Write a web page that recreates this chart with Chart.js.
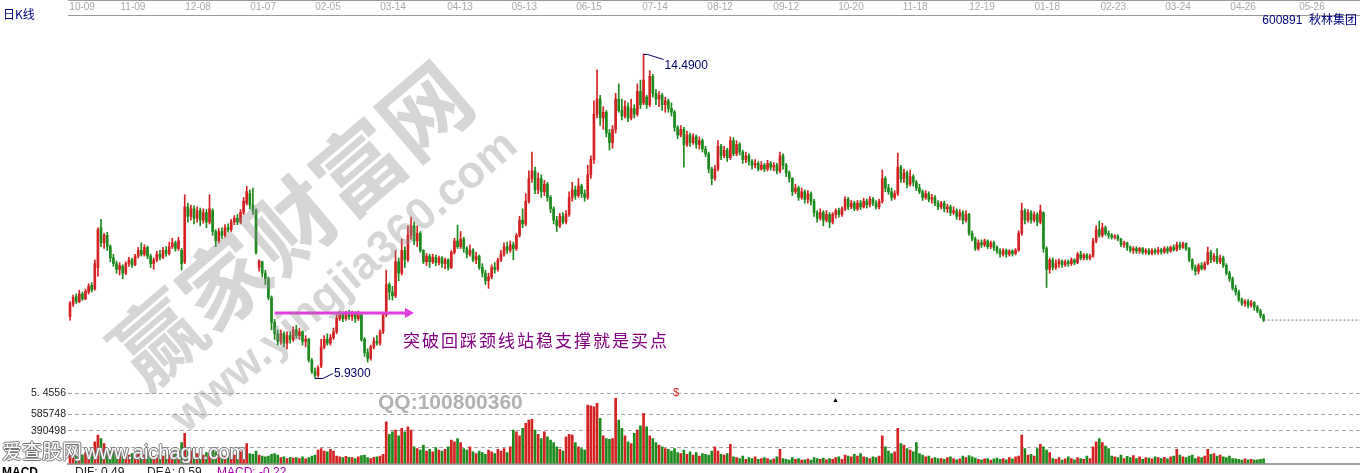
<!DOCTYPE html>
<html lang="zh">
<head>
<meta charset="utf-8">
<title>600891 秋林集团 日K线</title>
<script src="https://cdn.jsdelivr.net/npm/chart.js@4.4.1/dist/chart.umd.min.js"></script>
<style>
    body { margin: 0; background: #fff; }
    #stage { position: relative; width: 1360px; height: 473px; overflow: hidden; font-family: 'Liberation Sans', Arial, sans-serif; }
    .box { position: absolute; left: 0; width: 1360px; }
    #price-box { top: 0; height: 385px; }
    #volume-box { top: 385px; height: 88px; }
    .txt { position: absolute; white-space: nowrap; line-height: 1; }
    .topline { position: absolute; left: 68px; top: 0; width: 1292px; height: 1px; background: #9a9a9a; }
    .wm { position: absolute; white-space: nowrap; line-height: 1; font-weight: bold; color: rgba(140,140,140,0.36);
          transform: translate(-50%, -50%) rotate(-40.5deg); pointer-events: none; }
    .outline { color: #fff; text-shadow: -1px 0 #777, 1px 0 #777, 0 -1px #777, 0 1px #777; }
</style>
</head>
<body>
<div id="stage">
    <div class="box" id="price-box"><canvas id="priceChart"></canvas></div>
    <div class="box" id="volume-box"><canvas id="volumeChart"></canvas></div>
    <div class="topline"></div>

    <div class="txt" style="left:3px;top:8px;font-size:12px;color:#000080;font-family:'Noto Sans CJK SC',sans-serif">日K线</div>
    <div class="txt" style="right:3px;top:14px;font-size:12px;color:#000080;font-family:'Liberation Sans','Noto Sans CJK SC',sans-serif">600891&nbsp;&nbsp;秋林集团</div>

    <div class="txt" style="left:403px;top:331px;font-size:17px;letter-spacing:2px;color:#800080;font-family:'Noto Sans CJK SC',sans-serif">突破回踩颈线站稳支撑就是买点</div>

    <div class="txt" style="left:673px;top:387px;font-size:11px;color:#d02020">$</div>
    <div class="txt" style="left:832px;top:396px;font-size:7px;color:#000">▲</div>

    <div class="wm" style="left:288px;top:221px;font-size:88px;font-family:'Noto Sans CJK SC',sans-serif">赢家财富网</div>
    <div class="wm" style="left:343px;top:280px;font-size:45px;font-family:'Liberation Sans',Arial,sans-serif">www.yingjia360.com</div>
    <div class="txt" style="left:378px;top:391px;font-size:21px;font-weight:bold;color:#b2b2b2">QQ:100800360</div>

    <div class="txt outline" style="left:2px;top:441px;font-size:20px;font-family:'Noto Sans CJK SC',sans-serif">爱查股网</div>
    <div class="txt outline" style="left:85px;top:442px;font-size:20px">www.aichagu.com</div>

    <div class="txt" style="left:2px;top:466px;font-size:12px;font-weight:bold;color:#000">MACD</div>
    <div class="txt" style="left:75px;top:466px;font-size:12px;color:#222">DIF: 0.49</div>
    <div class="txt" style="left:147px;top:466px;font-size:12px;color:#222">DEA: 0.59</div>
    <div class="txt" style="left:217px;top:466px;font-size:12px;color:#b000b0">MACD: -0.22</div>
</div>

<script>
// Rótulos de data do eixo superior e a posição (índice do pregão) de cada um
const dateLabels = ['10-09','11-09','12-08','01-07','02-05','03-14','04-13','05-13','06-15','07-14',
    '08-12','09-12','10-20','11-18','12-19','01-18','02-23','03-24','04-26','05-26'];
const dateTickIdx = [3.9, 20.3, 41.3, 62.3, 83.2, 104.2, 125.8, 146.5, 167.4, 188.7,
    209.7, 231.0, 251.9, 272.6, 294.2, 315.2, 336.5, 357.4, 378.4, 400.6];

// Preço de abertura de cada pregão
const openP = [
    7.55,7.88,8.08,7.95,8.15,8.02,8.20,8.38,8.28,8.85,
    9.90,9.50,9.70,9.40,9.10,8.95,8.80,8.88,8.70,8.95,
    9.05,8.92,9.15,9.30,9.20,9.38,9.15,8.95,9.05,9.20,
    9.12,9.30,9.22,9.40,9.50,9.35,9.30,9.00,10.45,10.20,
    10.40,10.15,10.35,10.10,10.30,10.05,10.35,9.80,9.55,9.80,
    9.70,9.90,9.85,10.05,10.15,10.05,10.30,10.55,10.80,10.50,
    10.35,8.85,9.00,8.70,8.55,8.05,7.40,7.10,6.90,7.10,
    6.85,7.05,6.95,7.20,7.05,7.15,6.90,6.95,6.40,6.10,
    6.00,6.25,6.75,6.95,6.85,7.00,7.15,7.50,7.60,7.50,
    7.62,7.55,7.65,7.50,7.60,6.95,6.60,6.45,6.75,6.90,
    6.85,7.15,7.60,8.40,8.20,8.10,9.00,8.70,9.30,9.05,
    9.70,9.95,9.55,9.75,9.30,9.00,9.15,9.00,9.12,8.98,
    9.10,8.95,9.05,8.85,9.25,9.55,9.40,9.60,9.35,9.20,
    9.30,9.05,9.15,8.85,8.70,8.50,8.60,8.85,8.80,9.05,
    9.20,9.40,9.30,9.45,9.35,9.70,10.10,10.00,10.60,11.20,
    11.40,10.90,11.20,10.85,11.05,10.70,10.40,10.10,9.95,10.20,
    10.05,10.25,10.70,10.90,10.75,11.00,10.80,10.70,11.30,11.70,
    12.90,13.30,12.80,12.95,12.40,12.15,12.50,13.30,13.00,12.85,
    13.10,12.80,13.05,12.90,13.50,13.20,13.35,13.15,13.90,13.45,
    13.30,13.40,13.15,13.25,13.05,12.95,12.55,12.35,12.50,12.10,
    12.35,12.15,12.30,12.10,12.20,11.98,11.85,11.45,11.20,11.45,
    12.05,11.80,11.95,11.75,12.20,11.85,12.10,11.90,11.70,11.80,
    11.65,11.55,11.60,11.45,11.55,11.45,11.60,11.50,11.55,11.40,
    11.80,11.55,11.35,11.20,10.85,10.95,10.70,10.85,10.65,10.80,
    10.60,10.30,10.15,10.30,10.10,10.25,10.05,10.25,10.35,10.25,
    10.40,10.65,10.45,10.55,10.40,10.55,10.45,10.60,10.50,10.65,
    10.55,10.45,10.60,11.20,10.95,10.85,10.70,10.80,11.50,11.20,
    11.35,11.05,11.25,11.10,10.95,10.85,10.70,10.80,10.65,10.70,
    10.55,10.45,10.55,10.40,10.45,10.30,10.35,10.20,10.30,10.10,
    10.25,9.75,9.60,9.35,9.50,9.45,9.55,9.40,9.50,9.38,
    9.28,9.20,9.30,9.20,9.28,9.22,9.30,9.75,10.35,10.10,
    10.30,10.10,10.25,10.05,10.30,9.35,8.80,9.05,8.85,8.95,
    9.02,8.92,9.00,8.95,9.05,8.98,9.20,9.10,9.18,9.10,
    9.15,9.55,9.85,9.70,9.90,9.75,9.70,9.65,9.68,9.60,
    9.45,9.50,9.38,9.30,9.35,9.28,9.35,9.25,9.30,9.22,
    9.30,9.25,9.32,9.26,9.35,9.28,9.38,9.32,9.45,9.38,
    9.48,9.35,9.05,8.85,8.75,8.90,8.82,8.95,9.25,9.05,
    9.15,9.00,9.10,8.90,8.70,8.55,8.30,8.20,8.00,7.90,
    7.95,7.85,7.92,7.80,7.70,7.58
];

// Preço máximo de cada pregão
const highP = [
    7.95,8.12,8.15,8.25,8.20,8.28,8.42,8.45,9.05,9.90,
    10.12,9.75,9.78,9.45,9.20,9.02,8.98,8.92,9.00,9.12,
    9.10,9.20,9.38,9.50,9.45,9.42,9.20,9.10,9.28,9.30,
    9.38,9.40,9.52,9.62,9.55,9.65,9.35,10.77,10.55,10.50,
    10.48,10.45,10.42,10.40,10.38,10.77,10.40,9.85,9.88,9.90,
    9.98,10.00,10.12,10.22,10.25,10.38,10.70,10.99,10.90,10.95,
    10.40,9.05,9.02,8.78,8.60,8.10,7.48,7.20,7.20,7.15,
    7.15,7.15,7.28,7.32,7.25,7.18,7.05,6.98,6.45,6.20,
    6.25,6.95,7.05,7.10,7.08,7.25,7.60,7.70,7.68,7.70,
    7.72,7.70,7.68,7.70,7.65,7.00,6.70,6.80,7.00,7.05,
    7.20,7.65,8.78,8.45,8.35,9.30,9.10,9.60,9.40,9.95,
    10.18,10.05,9.95,9.80,9.32,9.22,9.20,9.20,9.18,9.15,
    9.14,9.10,9.08,9.30,9.62,9.97,9.80,9.65,9.40,9.45,
    9.35,9.25,9.18,8.95,8.78,8.70,8.92,8.98,9.10,9.30,
    9.50,9.52,9.55,9.52,9.75,10.20,10.40,10.80,11.40,11.90,
    11.50,11.35,11.30,11.15,11.10,10.75,10.45,10.20,10.28,10.30,
    10.35,10.85,11.10,11.00,11.20,11.05,10.90,11.55,11.80,13.25,
    14.07,13.40,13.10,13.00,12.50,12.60,13.45,13.70,13.30,13.25,
    13.20,13.30,13.15,13.70,13.80,14.49,13.40,14.05,13.95,13.55,
    13.50,13.45,13.35,13.30,13.20,13.00,12.60,12.60,12.55,12.45,
    12.40,12.38,12.35,12.30,12.25,12.05,11.90,11.50,11.55,12.20,
    12.10,12.05,12.00,12.30,12.28,12.20,12.15,11.95,11.90,11.85,
    11.70,11.70,11.65,11.65,11.60,11.68,11.65,11.62,11.60,11.90,
    11.85,11.60,11.40,11.22,11.05,11.00,10.95,10.90,10.88,10.85,
    10.65,10.35,10.40,10.35,10.35,10.30,10.30,10.40,10.42,10.45,
    10.72,10.70,10.62,10.60,10.62,10.62,10.68,10.66,10.72,10.70,
    10.62,10.65,11.43,11.25,11.05,10.95,10.88,11.87,11.55,11.45,
    11.40,11.42,11.30,11.15,11.05,10.90,10.88,10.85,10.78,10.75,
    10.62,10.60,10.60,10.52,10.50,10.45,10.40,10.38,10.35,10.35,
    10.28,9.82,9.65,9.58,9.58,9.60,9.58,9.55,9.55,9.42,
    9.35,9.35,9.34,9.32,9.32,9.35,9.82,10.55,10.40,10.38,
    10.35,10.32,10.30,10.50,10.32,9.40,9.10,9.10,9.05,9.08,
    9.05,9.05,9.05,9.10,9.08,9.25,9.28,9.22,9.22,9.20,
    9.62,9.95,10.08,10.02,9.95,9.82,9.75,9.72,9.72,9.62,
    9.55,9.52,9.42,9.40,9.40,9.38,9.38,9.35,9.35,9.35,
    9.35,9.38,9.36,9.40,9.40,9.42,9.45,9.52,9.52,9.52,
    9.50,9.38,9.08,8.92,8.95,8.98,9.00,9.39,9.30,9.22,
    9.35,9.18,9.15,8.95,8.75,8.60,8.38,8.25,8.05,8.00,
    8.00,7.98,7.95,7.85,7.75,7.62
];

// Preço mínimo de cada pregão
const lowP = [
    7.46,7.82,7.90,7.92,7.98,8.00,8.15,8.20,8.25,8.62,
    9.40,9.35,9.30,9.00,8.88,8.70,8.65,8.55,8.66,8.88,
    8.85,8.90,9.10,9.15,9.15,9.08,8.85,8.80,9.00,9.05,
    9.08,9.15,9.18,9.35,9.28,9.30,8.78,8.95,10.05,10.10,
    10.00,10.05,9.95,10.02,9.90,10.00,9.70,9.40,9.50,9.62,
    9.65,9.78,9.80,9.98,9.98,10.00,10.25,10.50,10.40,10.25,
    9.20,8.75,8.60,8.40,8.00,7.20,6.95,6.80,6.82,6.75,
    6.70,6.85,6.90,6.98,6.95,6.80,6.75,6.35,6.05,5.93,
    5.95,6.20,6.70,6.80,6.80,6.95,7.10,7.45,7.42,7.45,
    7.48,7.45,7.40,7.45,6.90,6.50,6.35,6.40,6.70,6.80,
    6.80,7.10,7.55,8.00,7.99,8.05,8.50,8.65,8.85,9.00,
    9.60,9.45,9.40,9.25,8.95,8.90,8.85,8.95,8.90,8.92,
    8.85,8.82,8.78,8.82,9.20,9.35,9.35,9.25,9.10,9.15,
    9.00,8.95,8.80,8.60,8.40,8.30,8.55,8.70,8.75,9.00,
    9.15,9.22,9.25,9.05,9.30,9.65,9.90,9.95,10.55,11.10,
    10.80,10.80,10.70,10.75,10.60,10.30,10.00,9.80,9.90,10.00,
    10.00,10.20,10.60,10.65,10.70,10.70,10.60,10.65,11.20,11.60,
    12.80,12.60,12.50,12.30,11.95,12.00,12.40,12.95,12.75,12.80,
    12.70,12.75,12.80,12.85,13.05,13.15,13.05,13.10,13.35,13.15,
    13.10,13.00,12.95,12.95,12.85,12.45,12.25,12.30,11.50,12.05,
    12.05,12.10,12.00,11.98,11.90,11.78,11.35,11.03,11.15,11.40,
    11.70,11.75,11.65,11.70,11.80,11.80,11.82,11.60,11.62,11.55,
    11.45,11.48,11.40,11.42,11.38,11.40,11.42,11.40,11.32,11.35,
    11.45,11.25,11.10,10.75,10.80,10.62,10.65,10.55,10.55,10.50,
    10.20,10.05,10.10,9.95,10.05,9.90,10.00,10.15,10.18,10.20,
    10.35,10.38,10.40,10.35,10.35,10.38,10.42,10.42,10.45,10.48,
    10.40,10.40,10.55,10.85,10.78,10.62,10.65,10.75,11.10,11.10,
    10.95,11.00,11.00,10.88,10.80,10.62,10.65,10.58,10.55,10.48,
    10.38,10.40,10.32,10.30,10.22,10.25,10.12,10.10,10.00,10.05,
    9.70,9.55,9.30,9.30,9.38,9.40,9.35,9.35,9.30,9.22,
    9.12,9.15,9.12,9.15,9.15,9.18,9.28,9.70,10.00,10.05,
    10.02,10.05,9.95,10.00,9.25,8.32,8.70,8.78,8.80,8.85,
    8.85,8.88,8.88,8.90,8.92,8.95,9.05,9.05,9.05,9.05,
    9.12,9.50,9.65,9.65,9.70,9.62,9.60,9.60,9.55,9.40,
    9.38,9.30,9.25,9.22,9.22,9.22,9.20,9.20,9.18,9.18,
    9.20,9.20,9.20,9.22,9.22,9.25,9.28,9.28,9.32,9.35,
    9.30,9.00,8.78,8.65,8.68,8.78,8.78,8.92,8.98,9.00,
    8.95,8.95,8.85,8.65,8.48,8.25,8.12,7.95,7.85,7.82,
    7.78,7.80,7.72,7.65,7.52,7.42
];

// Preço de fechamento de cada pregão
const closeP = [
    7.90,8.05,7.95,8.15,8.02,8.22,8.35,8.25,8.95,9.85,
    9.50,9.70,9.40,9.10,8.95,8.80,8.90,8.70,8.95,9.05,
    8.92,9.15,9.30,9.20,9.38,9.15,8.95,9.05,9.20,9.12,
    9.30,9.22,9.40,9.50,9.35,9.55,8.95,10.45,10.20,10.40,
    10.15,10.35,10.10,10.30,10.05,10.40,9.80,9.55,9.80,9.70,
    9.90,9.85,10.05,10.15,10.05,10.30,10.60,10.85,10.50,10.35,
    9.25,9.02,8.70,8.55,8.05,7.40,7.10,6.90,7.10,6.85,
    7.05,6.95,7.20,7.05,7.15,6.90,6.95,6.40,6.10,6.00,
    6.20,6.75,6.95,6.85,7.00,7.15,7.50,7.60,7.50,7.62,
    7.55,7.65,7.50,7.60,6.95,6.60,6.45,6.75,6.90,6.85,
    7.15,7.60,8.40,8.20,8.10,9.00,8.70,9.30,9.05,9.70,
    9.95,9.55,9.75,9.30,9.00,9.15,9.00,9.12,8.98,9.10,
    8.95,9.05,8.85,9.25,9.55,9.40,9.60,9.35,9.20,9.30,
    9.05,9.15,8.85,8.70,8.50,8.60,8.85,8.80,9.05,9.20,
    9.40,9.30,9.45,9.35,9.70,10.10,10.00,10.60,11.20,11.40,
    10.90,11.20,10.85,11.05,10.70,10.40,10.10,9.95,10.20,10.05,
    10.25,10.70,10.90,10.75,11.00,10.80,10.70,11.30,11.70,12.90,
    13.30,12.80,12.95,12.40,12.15,12.50,13.30,13.00,12.85,13.10,
    12.80,13.05,12.90,13.50,13.15,13.80,13.15,13.90,13.45,13.30,
    13.40,13.15,13.25,13.05,12.95,12.55,12.35,12.50,12.10,12.35,
    12.15,12.30,12.10,12.20,11.98,11.85,11.45,11.20,11.45,12.05,
    11.80,11.95,11.75,12.20,11.85,12.10,11.90,11.70,11.80,11.65,
    11.55,11.60,11.45,11.55,11.45,11.60,11.50,11.55,11.40,11.80,
    11.55,11.35,11.20,10.85,10.95,10.70,10.85,10.65,10.80,10.60,
    10.30,10.15,10.30,10.10,10.25,10.05,10.25,10.35,10.25,10.40,
    10.65,10.45,10.55,10.40,10.55,10.45,10.60,10.50,10.65,10.55,
    10.45,10.60,11.20,10.95,10.85,10.70,10.80,11.50,11.20,11.35,
    11.05,11.25,11.10,10.95,10.85,10.70,10.80,10.65,10.70,10.55,
    10.45,10.55,10.40,10.45,10.30,10.35,10.20,10.30,10.10,10.25,
    9.75,9.60,9.35,9.50,9.45,9.55,9.40,9.50,9.38,9.28,
    9.20,9.30,9.20,9.28,9.22,9.30,9.75,10.35,10.10,10.30,
    10.10,10.25,10.05,10.35,9.35,8.80,9.05,8.85,8.95,9.02,
    8.92,9.00,8.95,9.05,8.98,9.20,9.10,9.18,9.10,9.15,
    9.55,9.85,9.70,9.90,9.75,9.70,9.65,9.68,9.60,9.45,
    9.50,9.38,9.30,9.35,9.28,9.35,9.25,9.30,9.22,9.30,
    9.25,9.32,9.26,9.35,9.28,9.38,9.32,9.45,9.38,9.48,
    9.35,9.05,8.85,8.75,8.90,8.82,8.95,9.25,9.05,9.15,
    9.00,9.10,8.90,8.70,8.55,8.30,8.20,8.00,7.90,7.95,
    7.85,7.92,7.80,7.70,7.58,7.46
];

// Volume de cada pregão, em milhares de ações
const volumeK = [
    100,110,95,120,105,130,125,140,260,340,
    300,240,180,150,130,110,100,90,110,100,
    120,95,115,130,105,90,100,85,95,110,
    90,120,100,130,110,95,250,360,180,150,
    130,120,110,100,130,120,170,140,110,100,
    90,110,120,100,130,140,160,240,120,110,
    150,100,90,80,90,110,120,100,70,80,
    60,75,65,70,60,80,55,70,90,100,
    160,180,150,140,170,150,90,80,70,85,
    75,70,60,80,95,100,70,60,75,80,
    90,110,500,350,380,400,330,420,380,440,
    400,200,180,160,220,150,170,140,190,160,
    150,170,200,280,260,300,250,180,160,200,
    140,120,150,130,110,160,140,120,170,150,
    180,130,200,400,380,330,420,480,520,530,
    400,350,300,380,320,280,250,200,170,150,
    320,350,340,250,200,180,160,700,690,680,
    720,540,330,300,290,300,780,520,420,330,
    260,240,360,400,450,600,440,330,300,250,
    220,200,180,170,150,180,130,120,160,110,
    140,100,130,90,120,110,100,150,200,150,
    110,100,120,230,80,70,60,90,50,70,
    60,80,50,60,70,60,45,55,80,170,
    60,50,40,70,50,60,40,45,55,40,
    70,60,50,65,45,60,50,70,80,50,
    100,90,80,110,90,120,80,70,60,80,
    70,90,330,200,150,120,140,420,240,220,
    180,160,140,250,120,100,80,90,60,70,
    60,60,50,70,80,60,45,55,90,70,
    95,80,65,50,45,55,60,40,55,65,
    50,60,45,70,55,80,90,340,180,100,
    110,90,180,230,200,160,130,60,50,70,
    40,55,80,60,45,70,60,50,90,60,
    200,260,300,250,210,180,90,80,70,100,
    60,85,70,95,60,80,50,70,65,55,
    80,70,60,75,55,80,90,170,100,80,
    70,90,100,60,80,70,90,170,110,120,
    90,100,80,70,90,60,55,50,40,55,
    45,50,40,45,50,55
];

// Linhas do painel de volume (milhares) e seus rótulos
const volTickValues = [195.249, 390.498, 585.748, 840.9];
const volTickLabels = ['', '390498', '585748', '5. 4556'];

// Linha de pescoço com a seta (índices de início/fim e preço)
const neckIdx = [66, 109];
const neckPrice = [7.65, 7.65];

const upColor = '#d42222';
const downColor = '#1d8a1d';
const arrowColor = '#e03ce0';
const markColor = '#000066';

// Limites dos eixos (em índice de pregão e em preço)
const xMin = -0.65;
const xMax = 416.1;
const priceMin = 5.745;
const priceMax = 15.52;
const volMax = 904.4;

const fontLatin = "'Liberation Sans', Arial, sans-serif";

// Função principal que é executada quando a página carrega
document.addEventListener('DOMContentLoaded', function() {
    const colors = closeP.map((c, i) => c >= openP[i] ? upColor : downColor);
    renderPriceChart(colors);
    renderVolumeChart(colors);
});

// Zera o recuo que o Chart.js reserva para os rótulos das pontas
function noEdgePadding(scale) {
    scale.paddingLeft = 0;
    scale.paddingRight = 0;
    scale.paddingTop = 0;
    scale.paddingBottom = 0;
}

// Plugin que marca a máxima e a mínima do período
const extremesPlugin = {
    id: 'extremes',
    afterDatasetsDraw(chart) {
        const ctx = chart.ctx;
        const x = chart.scales.x;
        const y = chart.scales.y;
        const hi = highP.indexOf(Math.max(...highP));
        const lo = lowP.indexOf(Math.min(...lowP));

        ctx.save();
        ctx.strokeStyle = markColor;
        ctx.fillStyle = markColor;
        ctx.lineWidth = 1;
        ctx.font = '12px ' + fontLatin;
        ctx.textBaseline = 'middle';

        // Máxima
        const hx = x.getPixelForValue(hi);
        const hy = y.getPixelForValue(highP[hi]);
        ctx.beginPath();
        ctx.moveTo(hx, hy + 0.5);
        ctx.lineTo(hx + 4, hy + 0.5);
        ctx.lineTo(hx + 20, hy + 5.5);
        ctx.stroke();
        ctx.fillText(highP[hi].toFixed(4), hx + 21, hy + 12);

        // Mínima
        const lx = x.getPixelForValue(lo);
        const ly = y.getPixelForValue(lowP[lo]);
        ctx.beginPath();
        ctx.moveTo(lx, ly + 0.5);
        ctx.lineTo(lx + 8, ly + 0.5);
        ctx.lineTo(lx + 18, ly - 4.5);
        ctx.stroke();
        ctx.fillText(lowP[lo].toFixed(4), lx + 19, ly - 4);
        ctx.restore();
    }
};

// Gráfico de candles (preço)
function renderPriceChart(colors) {
    const ctx = document.getElementById('priceChart').getContext('2d');
    const last = closeP.length - 1;

    new Chart(ctx, {
        type: 'bar',
        data: {
            datasets: [
                {
                    type: 'line',
                    data: neckIdx.map((v, i) => ({ x: v, y: neckPrice[i] })),
                    borderColor: arrowColor,
                    borderWidth: 3,
                    pointRadius: [0, 6],
                    pointStyle: 'triangle',
                    pointRotation: 90,
                    pointBackgroundColor: arrowColor,
                    pointBorderWidth: 0,
                    order: 0
                },
                {
                    type: 'line',
                    data: [{ x: last, y: closeP[last] }, { x: xMax, y: closeP[last] }],
                    borderColor: '#777',
                    borderWidth: 1,
                    borderDash: [2, 2],
                    pointRadius: 0,
                    order: 1
                },
                {
                    data: openP.map((o, i) => ({ x: i, y: [Math.min(o, closeP[i]), Math.max(o, closeP[i])] })),
                    backgroundColor: colors,
                    barThickness: 2,
                    minBarLength: 1,
                    grouped: false,
                    order: 2
                },
                {
                    data: lowP.map((l, i) => ({ x: i, y: [l, highP[i]] })),
                    backgroundColor: colors,
                    barThickness: 1,
                    grouped: false,
                    order: 3
                }
            ]
        },
        options: {
            responsive: true,
            maintainAspectRatio: false,
            animation: false,
            events: [],
            layout: { autoPadding: false, padding: { left: 68, right: 0, top: 0, bottom: 0 } },
            plugins: { legend: { display: false }, tooltip: { enabled: false } },
            scales: {
                x: {
                    type: 'linear',
                    position: 'top',
                    min: xMin,
                    max: xMax,
                    offset: false,
                    grid: { display: false, drawTicks: false },
                    border: { display: true, color: '#9a9a9a' },
                    afterFit: (s) => { s.height = 15; noEdgePadding(s); },
                    afterBuildTicks: (s) => { s.ticks = dateTickIdx.map(v => ({ value: v })); },
                    ticks: {
                        autoSkip: false,
                        maxRotation: 0,
                        padding: 2,
                        color: '#a8a8a8',
                        font: { family: "'Liberation Sans Narrow', 'Liberation Sans', Arial, sans-serif", size: 10 },
                        callback: (v, i) => dateLabels[i]
                    }
                },
                y: { display: false, min: priceMin, max: priceMax }
            }
        },
        plugins: [extremesPlugin]
    });
}

// Gráfico de volume
function renderVolumeChart(colors) {
    const ctx = document.getElementById('volumeChart').getContext('2d');

    new Chart(ctx, {
        type: 'bar',
        data: {
            datasets: [{
                data: volumeK.map((v, i) => ({ x: i, y: v })),
                backgroundColor: colors,
                barThickness: 2
            }]
        },
        options: {
            responsive: true,
            maintainAspectRatio: false,
            animation: false,
            events: [],
            layout: { autoPadding: false, padding: { left: 0, right: 0, top: 3, bottom: 9.5 } },
            plugins: { legend: { display: false }, tooltip: { enabled: false } },
            scales: {
                x: {
                    type: 'linear',
                    min: xMin,
                    max: xMax,
                    offset: false,
                    ticks: { display: false },
                    grid: { display: false, drawTicks: false },
                    border: { display: true, color: '#a0a0a0', width: 2 },
                    afterFit: (s) => { s.height = 0; noEdgePadding(s); }
                },
                y: {
                    min: 0,
                    max: volMax,
                    afterFit: (s) => { s.width = 68; noEdgePadding(s); },
                    afterBuildTicks: (s) => { s.ticks = volTickValues.map(v => ({ value: v })); },
                    ticks: {
                        autoSkip: false,
                        padding: 2,
                        color: '#222',
                        font: { family: fontLatin, size: 10.5 },
                        callback: (v, i) => volTickLabels[i]
                    },
                    grid: { color: '#a4a4a4', drawTicks: false },
                    border: { display: false, dash: [4, 3] }
                }
            }
        }
    });
}
</script>
</body>
</html>
